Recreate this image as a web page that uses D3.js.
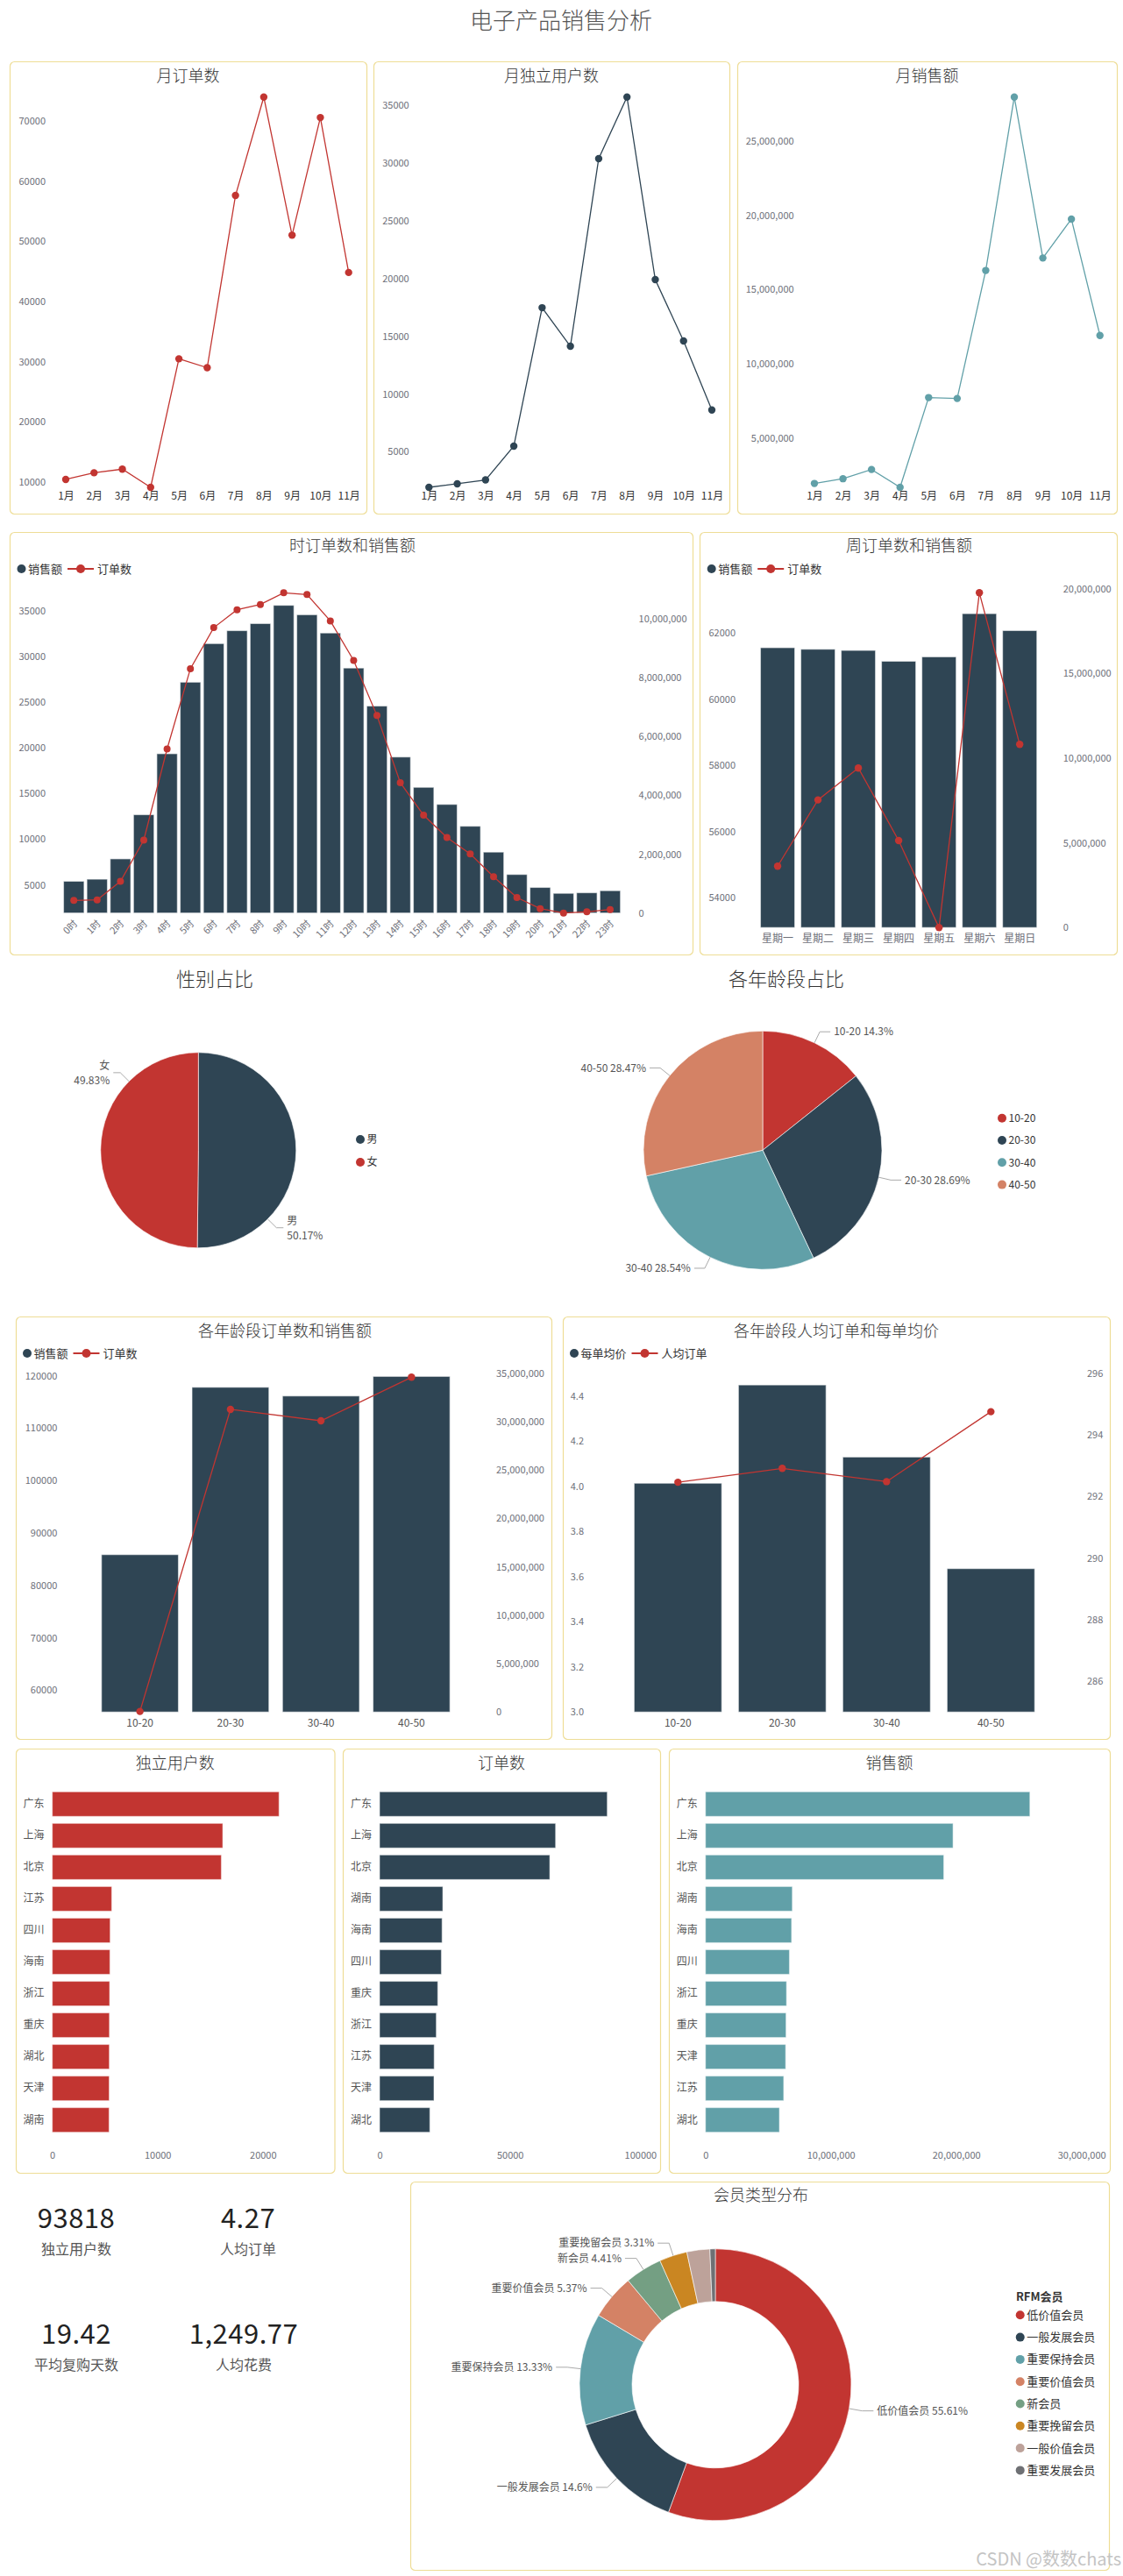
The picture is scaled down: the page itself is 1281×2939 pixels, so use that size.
<!DOCTYPE html>
<html><head><meta charset="utf-8">
<script src="https://cdn.jsdelivr.net/npm/d3@7"></script>
<style>
body{margin:0;background:#fff;}
svg text{font-family:"Noto Sans CJK SC","Noto Sans",sans-serif;}
</style></head><body>
<svg id="c" width="1281" height="2939"></svg>
<script>
// ---------------- DATA ----------------
const months = ["1月","2月","3月","4月","5月","6月","7月","8月","9月","10月","11月"];
const monthOrders = [10440,11540,12140,9120,30490,29010,57640,74010,51040,70600,44840];
const monthUsers = [1923,2231,2564,5487,17462,14128,30359,35692,19897,14590,8615];
const monthSales = [1950000,2270000,2890000,1690000,7730000,7670000,16280000,27950000,17120000,19740000,11910000];

const hours = ["0时","1时","2时","3时","4时","5时","6时","7时","8时","9时","10时","11时","12时","13时","14时","15时","16时","17时","18时","19时","20时","21时","22时","23时"];
const hourSales = [1080000,1150000,1840000,3340000,5410000,7840000,9150000,9590000,9830000,10450000,10130000,9510000,8320000,7030000,5300000,4270000,3690000,2950000,2070000,1310000,870000,670000,690000,760000];
const hourOrders = [3301,3365,5385,9904,19872,28654,33141,35096,35673,36955,36763,33878,29551,23526,16186,12628,10192,8397,5897,3622,2404,1923,2051,2308];

const weekdays = ["星期一","星期二","星期三","星期四","星期五","星期六","星期日"];
const weekSales = [16520000,16430000,16360000,15720000,15980000,18530000,17530000];
const weekOrders = [54954,56958,57921,55731,53099,63219,58636];

const genders = ["男","女"];
const genderShare = [50.17,49.83];
const ageGroups = ["10-20","20-30","30-40","40-50"];
const ageShare = [14.3,28.69,28.54,28.47];
const ageSales = [16260000,33550000,32650000,34670000];
const ageOrders = [55929,113597,111423,119732];
const agePerUser = [4.013,4.448,4.129,3.635];
const ageAvgPrice = [292.46,292.91,292.48,294.75];

const provUsersCats = ["广东","上海","北京","江苏","四川","海南","浙江","重庆","湖北","天津","湖南"];
const provUsers = [21542,16194,16061,5650,5500,5480,5450,5430,5420,5410,5400];
const provOrdersCats = ["广东","上海","北京","湖南","海南","四川","重庆","浙江","江苏","天津","湖北"];
const provOrders = [87323,67500,65274,24242,23972,23702,22319,21747,20937,20850,19285];
const provSalesCats = ["广东","上海","北京","湖南","海南","四川","浙江","重庆","天津","江苏","湖北"];
const provSales = [25880000,19750000,19010000,6930000,6870000,6700000,6470000,6430000,6400000,6240000,5900000];

const kpiValues = ["93818","4.27","19.42","1,249.77"];
const kpiLabels = ["独立用户数","人均订单","平均复购天数","人均花费"];

const memberTypes = ["低价值会员","一般发展会员","重要保持会员","重要价值会员","新会员","重要挽留会员","一般价值会员","重要发展会员"];
const memberShare = [55.61,14.6,13.33,5.37,4.41,3.31,2.73,0.64];

// ---------------- STYLE ----------------
const RED="#c23531", DARK="#2f4554", TEAL="#61a0a8", ORANGE="#d48265";
const memberColors = [RED,DARK,TEAL,ORANGE,"#749f83","#ca8622","#bda29a","#6e7074"];
const FONT='"Noto Sans CJK SC","Noto Sans",sans-serif';
const svg = d3.select("#c");
svg.append("rect").attr("width",1281).attr("height",2939).attr("fill","#fff");

function panel(x0,y0,x1,y1){
  svg.append("rect").attr("x",x0+0.5).attr("y",y0+0.5).attr("width",x1-x0).attr("height",y1-y0)
    .attr("rx",5).attr("fill","none").attr("stroke","#eedd96").attr("stroke-width",1.2);
}
function title(t,cx,cy,size,color){
  svg.append("text").attr("x",cx).attr("y",cy).attr("dy","0.35em").attr("text-anchor","middle")
    .attr("font-size",size).attr("font-weight",300).attr("fill",color||"#333").text(t);
}
function clean(g,color,size){
  g.attr("font-family",FONT).attr("font-size",size);
  g.select(".domain").remove();
  g.selectAll(".tick line").remove();
  g.selectAll("text").attr("fill",color);
}
function legendBL(x0,y,barName,lineName,barColor,lineColor){
  svg.append("circle").attr("cx",x0).attr("cy",y).attr("r",5).attr("fill",barColor);
  svg.append("text").attr("x",x0+7.5).attr("y",y).attr("dy","0.35em").attr("font-size",13).attr("fill","#333").text(barName);
  const lx = x0+7.5+barName.length*13+6;
  svg.append("line").attr("x1",lx).attr("x2",lx+30).attr("y1",y).attr("y2",y).attr("stroke",lineColor).attr("stroke-width",2);
  svg.append("circle").attr("cx",lx+15).attr("cy",y).attr("r",5).attr("fill",lineColor);
  svg.append("text").attr("x",lx+34).attr("y",y).attr("dy","0.35em").attr("font-size",13).attr("fill","#333").text(lineName);
}
function drawLine(xs,ys,vals,cats,color,r){
  const line=d3.line().x((d,i)=>xs(cats[i])+(xs.bandwidth?xs.bandwidth()/2:0)).y(d=>ys(d));
  svg.append("path").datum(vals).attr("d",line).attr("fill","none").attr("stroke",color).attr("stroke-width",1.3);
  svg.append("g").selectAll("circle").data(vals).join("circle")
    .attr("cx",(d,i)=>xs(cats[i])+(xs.bandwidth?xs.bandwidth()/2:0)).attr("cy",d=>ys(d)).attr("r",r).attr("fill",color);
}
function drawBars(xs,ys,vals,cats,color,yBottom){
  svg.append("g").selectAll("rect").data(vals).join("rect")
    .attr("x",(d,i)=>xs(cats[i])).attr("width",xs.bandwidth())
    .attr("y",d=>ys(d)).attr("height",d=>yBottom-ys(d))
    .attr("fill",color).attr("stroke","rgba(255,255,255,0.55)").attr("stroke-width",1.2);
}

// ---------------- MAIN TITLE ----------------
title("电子产品销售分析",640,24,26,"#555");

// ---------------- ROW 1: monthly ----------------
function monthChart(vals,color,xr,labelRight,fmt,px0,px1,name){
  panel(px0,70,px1,586);
  title(name,(px0+px1)/2,86.5,18);
  const x=d3.scalePoint().domain(months).range(xr);
  const y=d3.scaleLinear().domain(d3.extent(vals)).range([556,110.7]);
  svg.append("g").attr("transform",`translate(${labelRight},0)`)
    .call(d3.axisLeft(y).ticks(7).tickSize(0).tickPadding(0).tickFormat(fmt)).call(clean,"#6e7079",11);
  svg.append("g").attr("transform","translate(0,556)")
    .call(d3.axisBottom(x).tickSize(0).tickPadding(5)).call(clean,"#333",12);
  drawLine(x,y,vals,months,color,4.2);
}
monthChart(monthOrders,RED,[75,397.7],52,d3.format("d"),11,418,"月订单数");
monthChart(monthUsers,DARK,[489.3,812],466.7,d3.format("d"),426,832,"月独立用户数");
monthChart(monthSales,TEAL,[929,1254.7],905.7,d3.format(","),841,1274,"月销售额");

// ---------------- ROW 2: hourly ----------------
panel(11,607,790,1089);
title("时订单数和销售额",402,623,18);
legendBL(24.5,649,"销售额","订单数",DARK,RED);
{
  const x=d3.scaleBand().domain(hours).range([70.9,709.3]).paddingInner(0.12).paddingOuter(0.06);
  const yL=d3.scaleLinear().domain(d3.extent(hourOrders)).range([1041.7,676.3]);
  const yR=d3.scaleLinear().domain([0,10875000]).range([1041.7,676.3]);
  drawBars(x,yR,hourSales,hours,DARK,1041.7);
  svg.append("g").attr("transform","translate(52,0)")
    .call(d3.axisLeft(yL).ticks(7).tickSize(0).tickPadding(0).tickFormat(d3.format("d"))).call(clean,"#6e7079",11);
  svg.append("g").attr("transform","translate(728.6,0)")
    .call(d3.axisRight(yR).ticks(6).tickSize(0).tickPadding(0).tickFormat(d3.format(","))).call(clean,"#6e7079",11);
  const gx=svg.append("g").attr("transform","translate(0,1041.7)")
    .call(d3.axisBottom(x).tickSize(0)).call(clean,"#6e7079",11);
  gx.selectAll("text").attr("y",0).attr("dy","0.35em").attr("text-anchor","end")
    .attr("transform","translate(2,10) rotate(-45)");
  drawLine(x,yL,hourOrders,hours,RED,4);
}

// ---------------- ROW 2: weekly ----------------
panel(798,607,1274,1089);
title("周订单数和销售额",1037,623,18);
legendBL(811.7,649,"销售额","订单数",DARK,RED);
{
  const x=d3.scaleBand().domain(weekdays).range([864,1186.2]).paddingInner(0.15).paddingOuter(0.075);
  const yL=d3.scaleLinear().domain(d3.extent(weekOrders)).range([1058.3,676.3]);
  const yR=d3.scaleLinear().domain([0,19760000]).range([1058.3,676.3]);
  drawBars(x,yR,weekSales,weekdays,DARK,1058.3);
  svg.append("g").attr("transform","translate(839,0)")
    .call(d3.axisLeft(yL).ticks(5).tickSize(0).tickPadding(0).tickFormat(d3.format("d"))).call(clean,"#6e7079",11);
  svg.append("g").attr("transform","translate(1212.7,0)")
    .call(d3.axisRight(yR).tickValues(d3.range(0,20000001,5000000)).tickSize(0).tickPadding(0).tickFormat(d3.format(","))).call(clean,"#6e7079",11);
  svg.append("g").attr("transform","translate(0,1058.3)")
    .call(d3.axisBottom(x).tickSize(0).tickPadding(8)).call(clean,"#6e7079",12);
  drawLine(x,yL,weekOrders,weekdays,RED,4.2);
}

// ---------------- ROW 3: pies ----------------
function pieLabels(arcs,cx,cy,r,len1,len2,offsetDeg,texts,twoLine){
  arcs.forEach((d,i)=>{
    if(texts[i]===null) return;
    const a=(d.startAngle+d.endAngle)/2+offsetDeg*Math.PI/180;
    const s=Math.sin(a), c=-Math.cos(a);
    const p1=[cx+s*r,cy+c*r], p2=[cx+s*(r+len1),cy+c*(r+len1)];
    const dir=s>=0?1:-1;
    const p3=[p2[0]+dir*len2,p2[1]];
    svg.append("polyline").attr("points",[p1,p2,p3].map(p=>p.join(",")).join(" "))
      .attr("fill","none").attr("stroke","#aaa").attr("stroke-width",1);
    const t=svg.append("text").attr("x",p3[0]+dir*4).attr("y",p3[1]).attr("text-anchor",dir>0?"start":"end")
      .attr("font-size",12).attr("fill","#555");
    if(twoLine){
      t.append("tspan").attr("x",p3[0]+dir*4).attr("y",p3[1]-8).attr("dy","0.35em").text(texts[i][0]);
      t.append("tspan").attr("x",p3[0]+dir*4).attr("y",p3[1]+9).attr("dy","0.35em").text(texts[i][1]);
    } else {
      t.attr("dy","0.35em").text(texts[i]);
    }
  });
}
function dotLegend(x,y0,step,names,colors,size){
  names.forEach((n,i)=>{
    svg.append("circle").attr("cx",x).attr("cy",y0+i*step).attr("r",5).attr("fill",colors[i]);
    svg.append("text").attr("x",x+7.5).attr("y",y0+i*step).attr("dy","0.35em").attr("font-size",size).attr("fill","#333").text(n);
  });
}
const pie=d3.pie().sort(null).value(d=>d);
title("性别占比",245,1117,22);
{
  const cx=226.3, cy=1312.3, r=111.5;
  const arcs=pie(genderShare);
  const arc=d3.arc().innerRadius(0).outerRadius(r);
  svg.append("g").attr("transform",`translate(${cx},${cy})`).selectAll("path").data(arcs).join("path")
    .attr("d",arc).attr("fill",(d,i)=>[DARK,RED][i]).attr("stroke","#fff").attr("stroke-width",0.6);
  pieLabels(arcs,cx,cy,r,14,8,44.5,genders.map((g,i)=>[g,genderShare[i]+"%"]),true);
  dotLegend(411,1300,26,genders,[DARK,RED],12);
}
title("各年龄段占比",897,1117,22);
{
  const cx=870, cy=1312.3, r=136;
  const arcs=pie(ageShare);
  const arc=d3.arc().innerRadius(0).outerRadius(r);
  const cols=[RED,DARK,TEAL,ORANGE];
  svg.append("g").attr("transform",`translate(${cx},${cy})`).selectAll("path").data(arcs).join("path")
    .attr("d",arc).attr("fill",(d,i)=>cols[i]).attr("stroke","#fff").attr("stroke-width",0.6);
  pieLabels(arcs,cx,cy,r,14,12,0,ageGroups.map((g,i)=>g+" "+ageShare[i]+"%"),false);
  dotLegend(1143,1275.7,25.3,ageGroups,cols,12);
}

// ---------------- ROW 4 ----------------
panel(18,1502,629,1984);
title("各年龄段订单数和销售额",325,1518.3,18);
legendBL(31,1544,"销售额","订单数",DARK,RED);
{
  const x=d3.scaleBand().domain(ageGroups).range([108,521]).paddingInner(0.15).paddingOuter(0.075);
  const yL=d3.scaleLinear().domain([55818,120502]).range([1953.3,1566.7]);
  const yR=d3.scaleLinear().domain([0,35000000]).range([1953.3,1566.7]);
  drawBars(x,yR,ageSales,ageGroups,DARK,1953.3);
  svg.append("g").attr("transform","translate(65.4,0)")
    .call(d3.axisLeft(yL).ticks(7).tickSize(0).tickPadding(0).tickFormat(d3.format("d"))).call(clean,"#6e7079",11);
  svg.append("g").attr("transform","translate(566,0)")
    .call(d3.axisRight(yR).ticks(7).tickSize(0).tickPadding(0).tickFormat(d3.format(","))).call(clean,"#6e7079",11);
  svg.append("g").attr("transform","translate(0,1953.3)")
    .call(d3.axisBottom(x).tickSize(0).tickPadding(8)).call(clean,"#555",12);
  drawLine(x,yL,ageOrders,ageGroups,RED,4.2);
}
panel(642,1502,1266,1984);
title("各年龄段人均订单和每单均价",954,1518.3,18);
legendBL(655,1544,"每单均价","人均订单",DARK,RED);
{
  const x=d3.scaleBand().domain(ageGroups).range([713.8,1189.8]).paddingInner(0.16).paddingOuter(0.08);
  const yL=d3.scaleLinear().domain([3.0,4.5]).range([1953.3,1566.7]);
  const yR=d3.scaleLinear().domain([285,296]).range([1953.3,1566.7]);
  drawBars(x,yL,agePerUser,ageGroups,DARK,1953.3);
  svg.append("g").attr("transform","translate(666,0)")
    .call(d3.axisLeft(yL).ticks(8).tickSize(0).tickPadding(0).tickFormat(d3.format(".1f"))).call(clean,"#6e7079",11);
  svg.append("g").attr("transform","translate(1240,0)")
    .call(d3.axisRight(yR).ticks(6).tickSize(0).tickPadding(0).tickFormat(d3.format("d"))).call(clean,"#6e7079",11);
  svg.append("g").attr("transform","translate(0,1953.3)")
    .call(d3.axisBottom(x).tickSize(0).tickPadding(8)).call(clean,"#555",12);
  drawLine(x,yR,ageAvgPrice,ageGroups,RED,4.2);
}

// ---------------- ROW 5: provinces ----------------
function hbar(cats,vals,color,px0,px1,name,x0,xTick,tickV,tickVals,fmt){
  panel(px0,1995,px1,2479);
  title(name,(px0+px1)/2,2011.7,18);
  const y=d3.scaleBand().domain(cats).range([2040.3,2436.7]).paddingInner(0.22).paddingOuter(0.11);
  const x=d3.scaleLinear().domain([0,tickV]).range([x0,xTick]);
  svg.append("g").selectAll("rect").data(vals).join("rect")
    .attr("x",x(0)).attr("y",(d,i)=>y(cats[i])).attr("height",y.bandwidth())
    .attr("width",d=>x(d)-x(0)).attr("fill",color).attr("stroke","rgba(255,255,255,0.45)").attr("stroke-width",1.2);
  svg.append("g").attr("transform",`translate(${x0},0)`)
    .call(d3.axisLeft(y).tickSize(0).tickPadding(9)).call(clean,"#555",12);
  svg.append("g").attr("transform","translate(0,2445)")
    .call(d3.axisBottom(x).tickValues(tickVals).tickSize(0).tickPadding(10).tickFormat(fmt)).call(clean,"#6e7079",11);
}
hbar(provUsersCats,provUsers,RED,18,381.5,"独立用户数",59.6,179.7,10000,[0,10000,20000],d3.format("d"));
hbar(provOrdersCats,provOrders,DARK,391,753,"订单数",433,581.7,50000,[0,50000,100000],d3.format("d"));
hbar(provSalesCats,provSales,TEAL,763,1266,"销售额",804.7,947.7,10000000,[0,10000000,20000000,30000000],d3.format(","));

// ---------------- ROW 6: KPIs ----------------
const kpiPos=[[87,2531],[283,2531],[87,2663],[278,2663]];
kpiValues.forEach((v,i)=>{
  svg.append("text").attr("x",kpiPos[i][0]).attr("y",kpiPos[i][1]).attr("dy","0.35em").attr("text-anchor","middle")
    .attr("font-family","Roboto").attr("font-size",31).attr("fill","#222").attr("letter-spacing",0.5).text(v);
  svg.append("text").attr("x",kpiPos[i][0]).attr("y",kpiPos[i][1]+35).attr("dy","0.35em").attr("text-anchor","middle")
    .attr("font-size",16).attr("fill","#555").text(kpiLabels[i]);
});

// ---------------- ROW 6: donut ----------------
panel(468,2489,1265,2932);
title("会员类型分布",868,2504.3,18);
{
  const cx=816, cy=2720.8;
  const arcs=pie(memberShare);
  const arc=d3.arc().innerRadius(95).outerRadius(155);
  svg.append("g").attr("transform",`translate(${cx},${cy})`).selectAll("path").data(arcs).join("path")
    .attr("d",arc).attr("fill",(d,i)=>memberColors[i]).attr("stroke","#fff").attr("stroke-width",0.6);
  pieLabels(arcs,cx,cy,155,15,13,0,memberTypes.map((m,i)=>i<6?m+" "+memberShare[i]+"%":null),false);
  svg.append("text").attr("x",1159).attr("y",2620).attr("dy","0.35em").attr("font-size",13).attr("font-weight","bold")
    .attr("fill","#333").text("RFM会员");
  dotLegend(1163.7,2641.3,25.3,memberTypes,memberColors,13);
}
svg.append("text").attr("x",1279).attr("y",2920).attr("dy","0.35em").attr("text-anchor","end")
  .attr("font-size",20).attr("fill","#c4c4c4").text("CSDN @数数chats");
</script>
</body></html>
